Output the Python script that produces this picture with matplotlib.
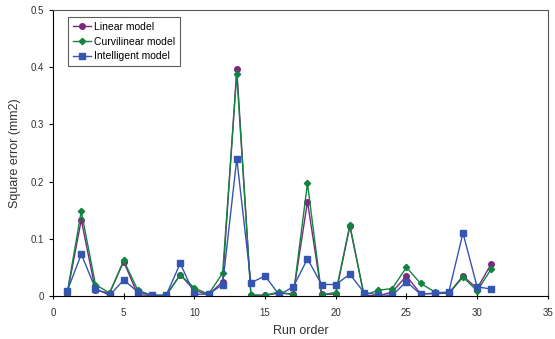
import matplotlib
matplotlib.use("Agg")
import matplotlib.pyplot as plt

plt.rcParams['font.family'] = ['Liberation Sans', 'DejaVu Sans']

run = list(range(1, 32))
linear = [0.003, 0.133, 0.010, 0.005, 0.060, 0.002, 0.001, 0.001, 0.037, 0.010,
          0.002, 0.025, 0.397, 0.002, 0.001, 0.005, 0.003, 0.165, 0.003, 0.003,
          0.122, 0.001, 0.000, 0.007, 0.035, 0.004, 0.004, 0.005, 0.035, 0.013,
          0.056]
curvilinear = [0.005, 0.148, 0.020, 0.005, 0.062, 0.010, 0.001, 0.001, 0.037, 0.014,
               0.003, 0.040, 0.388, 0.001, 0.001, 0.007, 0.002, 0.197, 0.002, 0.006,
               0.124, 0.001, 0.010, 0.013, 0.050, 0.022, 0.007, 0.004, 0.033, 0.009,
               0.047]
intelligent = [0.008, 0.073, 0.013, 0.001, 0.028, 0.007, 0.001, 0.001, 0.057, 0.003,
               0.003, 0.020, 0.240, 0.023, 0.035, 0.002, 0.016, 0.065, 0.020, 0.020,
               0.038, 0.006, 0.002, 0.001, 0.025, 0.003, 0.005, 0.007, 0.110, 0.016,
               0.012]

fig = plt.figure(figsize=(5.55, 3.39), dpi=100)
ax = fig.add_axes([0.0955, 0.127, 0.8915, 0.8435])

ax.plot(run, linear, color="#7a2a7e", marker="o", markersize=4, linewidth=1,
        label="Linear model")
ax.plot(run, curvilinear, color="#13843f", marker="D", markersize=3.2, linewidth=1,
        label="Curvilinear model")
ax.plot(run, intelligent, color="#3556b0", marker="s", markersize=4.5, linewidth=1,
        label="Intelligent model")

ax.set_xlim(0, 35)
ax.set_ylim(0, 0.5)
ax.set_xticks(range(0, 36, 5))
ax.set_yticks([0, 0.1, 0.2, 0.3, 0.4, 0.5])
ax.set_yticklabels(["0", "0.1", "0.2", "0.3", "0.4", "0.5"])
ax.tick_params(labelsize=7, length=3, color="black", labelcolor="#333333")
ax.tick_params(axis="x", direction="inout", length=5, pad=6)
ax.set_xlabel("Run order", fontsize=9, color="#333333", labelpad=5)
ax.set_ylabel("Square error (mm2)", fontsize=9, color="#333333", labelpad=7)

for s in ["top", "right"]:
    ax.spines[s].set_color("#555555")
    ax.spines[s].set_linewidth(0.8)

leg = ax.legend(loc="upper left", bbox_to_anchor=(0.03, 0.975), fontsize=7.5,
                frameon=True, fancybox=False, edgecolor="#333333",
                borderaxespad=0, borderpad=0.45, labelspacing=0.45,
                handlelength=1.8, handletextpad=0.3)
leg.get_frame().set_linewidth(0.8)

fig.savefig("out.png", dpi=100)
